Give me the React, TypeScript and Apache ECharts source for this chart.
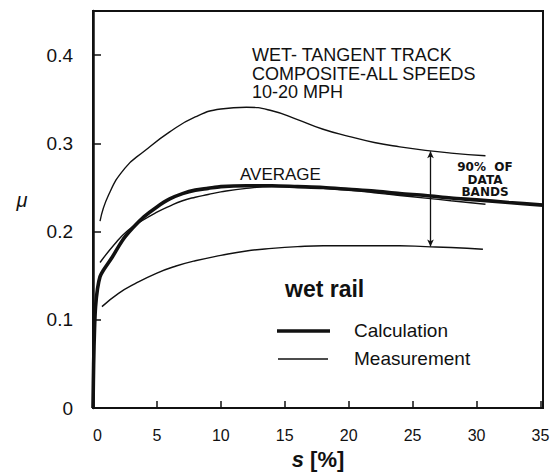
import React, { useEffect, useRef } from "react";
import * as echarts from "echarts";

// Slip s [%] and adhesion coefficient μ for the wet rail case
const calcSlip = [0, 0.05, 0.12, 0.2, 0.35, 0.55, 0.8, 1.5, 2.3, 3.1, 4, 5, 6, 7, 8, 9, 10, 12, 14, 16, 18, 20, 22, 24, 26, 28, 30, 32.5, 35.2];
const calcMu = [0, 0.05, 0.09, 0.115, 0.135, 0.149, 0.156, 0.171, 0.19, 0.204, 0.217, 0.228, 0.237, 0.243, 0.247, 0.249, 0.251, 0.252, 0.252, 0.251, 0.25, 0.248, 0.246, 0.243, 0.241, 0.238, 0.236, 0.233, 0.23];

const avgSlip = [0.55, 1.7, 2.7, 3.8, 5, 6, 7, 8, 9, 10, 12, 14, 16, 18, 20, 22, 24, 26, 28, 30.7];
const avgMu = [0.165, 0.186, 0.201, 0.212, 0.222, 0.229, 0.235, 0.239, 0.242, 0.245, 0.249, 0.251, 0.251, 0.249, 0.247, 0.244, 0.241, 0.238, 0.235, 0.231];

const upperSlip = [0.55, 1.2, 2.5, 4, 6, 8, 10, 12, 14, 16, 18, 20, 22, 24, 26, 28, 30.7];
const upperMu = [0.212, 0.241, 0.272, 0.291, 0.313, 0.33, 0.339, 0.341, 0.337, 0.327, 0.316, 0.308, 0.301, 0.296, 0.292, 0.289, 0.286];

const lowerSlip = [0.7, 2, 3.3, 5, 6.5, 8, 10, 12, 14, 16, 18, 20, 22, 24, 26, 28, 30.5];
const lowerMu = [0.115, 0.13, 0.141, 0.153, 0.161, 0.167, 0.173, 0.178, 0.181, 0.183, 0.184, 0.184, 0.184, 0.184, 0.183, 0.182, 0.18];

// Vertical extent of the 90 % data band
const bandSlip = 26.4;
const bandTop = 0.291;
const bandBottom = 0.183;

const xTicks = [0, 5, 10, 15, 20, 25, 30, 35];
const yTicks = [0, 0.1, 0.2, 0.3, 0.4];

const noteLines = ["WET- TANGENT TRACK", "COMPOSITE-ALL SPEEDS", "10-20 MPH"];
const bandLines = ["90%  OF", "DATA", "BANDS"];

const zip = (xs: number[], ys: number[]) => xs.map((x, i) => [x, ys[i]]);

const INK = "#111";
const SANS = "'Liberation Sans', Arial, sans-serif";

export default function App() {
  const ref = useRef<HTMLDivElement>(null);

  useEffect(() => {
    const chart = echarts.init(ref.current!, null, { renderer: "svg" });

    const thin = { color: INK, width: 1.4 };

    chart.setOption({
      animation: false,
      backgroundColor: "#fff",
      grid: {
        left: 93,
        right: 17,
        top: 11,
        bottom: 62,
        show: true,
        borderColor: INK,
        borderWidth: 2,
        backgroundColor: "transparent",
      },
      xAxis: {
        type: "value",
        min: 0,
        max: 35.2,
        interval: 5,
        name: "{i|s} [%]",
        nameLocation: "middle",
        nameGap: 37,
        nameTextStyle: {
          fontFamily: SANS,
          fontWeight: "bold",
          fontSize: 22,
          color: INK,
          rich: {
            i: { fontFamily: SANS, fontWeight: "bold", fontStyle: "italic", fontSize: 22, color: INK },
          },
        },
        axisLine: { lineStyle: { color: INK, width: 2 } },
        axisTick: { inside: true, length: 7, lineStyle: { color: INK, width: 1.5 } },
        splitLine: { show: false },
        axisLabel: {
          fontFamily: SANS,
          fontSize: 16,
          color: INK,
          margin: 19,
          alignMinLabel: "left",
          formatter: (v: number) => (xTicks.includes(v) ? String(v) : ""),
        },
      },
      yAxis: {
        type: "value",
        min: 0,
        max: 0.45,
        interval: 0.1,
        axisLine: { show: true, lineStyle: { color: INK, width: 2.5 } },
        axisTick: { show: true, inside: true, length: 8, lineStyle: { color: INK, width: 1.5 } },
        splitLine: { show: false },
        axisLabel: {
          fontFamily: SANS,
          fontSize: 19,
          color: INK,
          margin: 20,
          formatter: (v: number) => {
            const t = yTicks.find((y) => Math.abs(y - v) < 1e-6);
            if (t === undefined) return "";
            return t === 0 ? "0" : t.toFixed(1);
          },
        },
      },
      series: [
        {
          name: "Calculation",
          type: "line",
          data: zip(calcSlip, calcMu),
          symbol: "none",
          smooth: 0.3,
          lineStyle: { color: INK, width: 3.6 },
          z: 5,
        },
        {
          name: "Measurement",
          type: "line",
          data: zip(avgSlip, avgMu),
          symbol: "none",
          smooth: 0.5,
          lineStyle: thin,
        },
        {
          name: "Upper band",
          type: "line",
          data: zip(upperSlip, upperMu),
          symbol: "none",
          smooth: 0.5,
          lineStyle: thin,
          markLine: {
            silent: true,
            symbol: ["arrow", "arrow"],
            symbolSize: [5, 7],
            label: { show: false },
            lineStyle: { color: INK, width: 1.3, type: "solid" },
            data: [[{ coord: [bandSlip, bandTop] }, { coord: [bandSlip, bandBottom] }]],
          },
        },
        {
          name: "Lower band",
          type: "line",
          data: zip(lowerSlip, lowerMu),
          symbol: "none",
          smooth: 0.5,
          lineStyle: thin,
        },
      ],
      graphic: [
        {
          type: "text",
          x: 22,
          y: 200,
          style: { text: "μ", fill: INK, font: `italic 20px ${SANS}`, textAlign: "center", textVerticalAlign: "middle" },
        },
        {
          type: "text",
          x: 252,
          y: 46,
          style: {
            text: noteLines.join("\n"),
            fill: INK,
            font: `18px ${SANS}`,
            lineHeight: 18.5,
            textAlign: "left",
            textVerticalAlign: "top",
          },
        },
        {
          type: "text",
          x: 240,
          y: 174,
          style: { text: "AVERAGE", fill: INK, font: `17px ${SANS}`, textAlign: "left", textVerticalAlign: "middle" },
        },
        {
          type: "text",
          x: 485,
          y: 161,
          style: {
            text: bandLines.join("\n"),
            fill: INK,
            font: `bold 12px 'DejaVu Sans', sans-serif`,
            lineHeight: 12.5,
            textAlign: "center",
            textVerticalAlign: "top",
          },
        },
        {
          type: "text",
          x: 285,
          y: 289,
          style: { text: "wet rail", fill: INK, font: `bold 23px ${SANS}`, textAlign: "left", textVerticalAlign: "middle" },
        },
        {
          type: "line",
          shape: { x1: 277, y1: 331, x2: 330, y2: 331 },
          style: { stroke: INK, lineWidth: 3.6 },
        },
        {
          type: "text",
          x: 354,
          y: 330,
          style: { text: "Calculation", fill: INK, font: `19px ${SANS}`, textAlign: "left", textVerticalAlign: "middle" },
        },
        {
          type: "line",
          shape: { x1: 278, y1: 359, x2: 328, y2: 359 },
          style: { stroke: INK, lineWidth: 1.4 },
        },
        {
          type: "text",
          x: 354,
          y: 358,
          style: { text: "Measurement", fill: INK, font: `19px ${SANS}`, textAlign: "left", textVerticalAlign: "middle" },
        },
      ],
    });

    return () => chart.dispose();
  }, []);

  return (
    <div
      ref={ref}
      style={{ position: "absolute", left: 0, top: 0, width: 560, height: 475, background: "#fff" }}
    />
  );
}
